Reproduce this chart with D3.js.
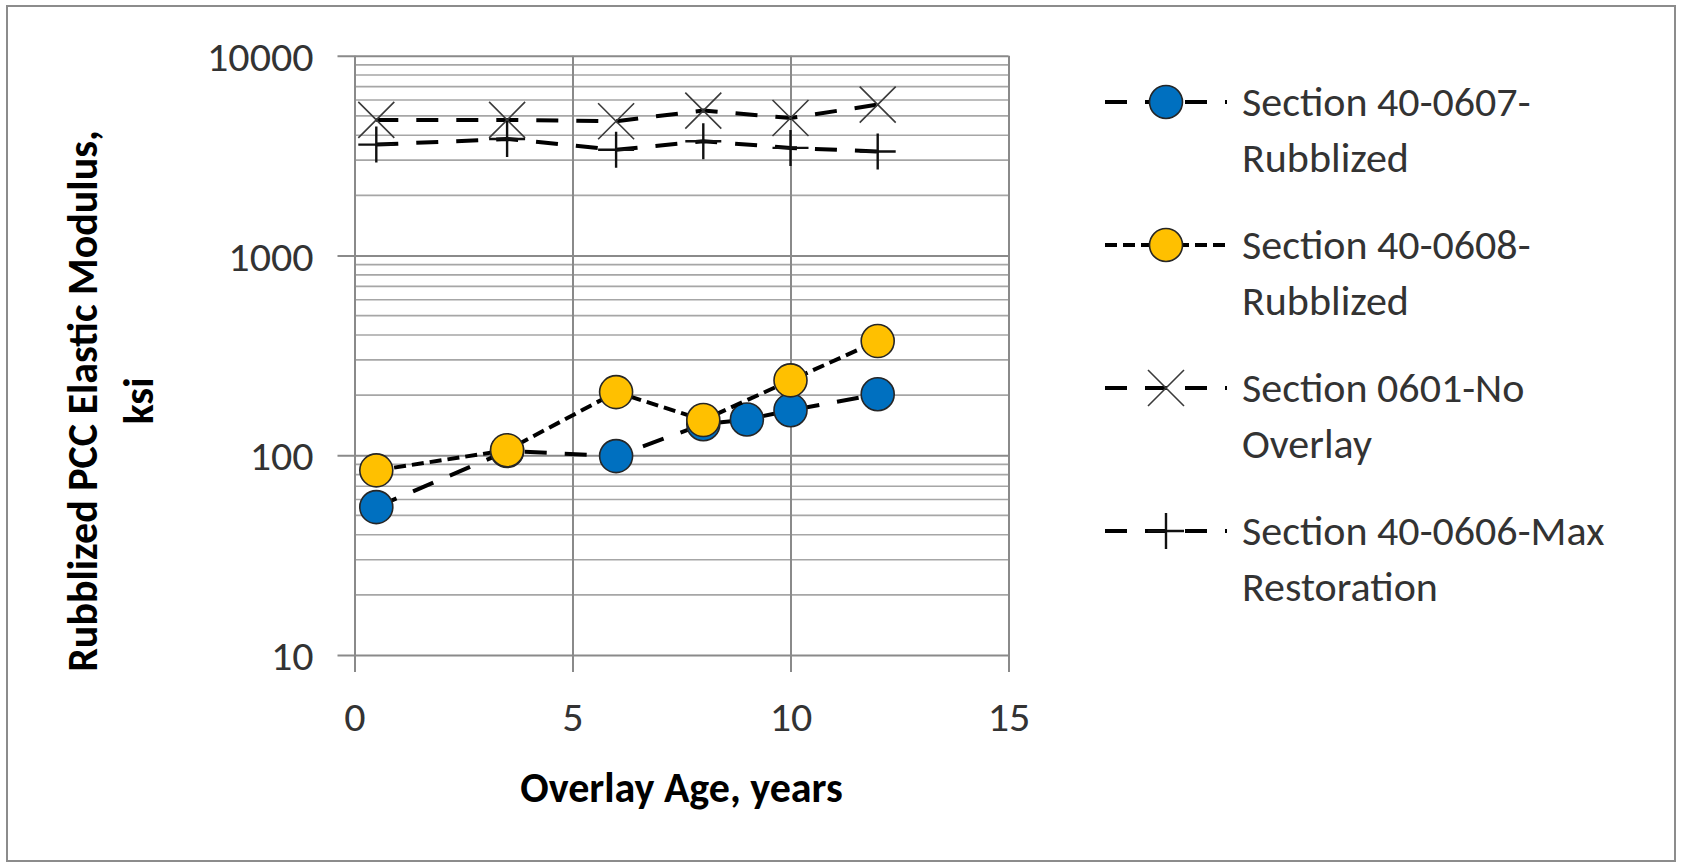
<!DOCTYPE html>
<html>
<head>
<meta charset="utf-8">
<script src="https://cdn.jsdelivr.net/npm/d3@7"></script>
<style>
  html, body { margin: 0; padding: 0; background: #fff; }
  svg text { font-family: Carlito, Calibri, Lato, sans-serif; }
</style>
</head>
<body>
<div id="vis"></div>
<script>
'use strict';

// Values (modulus in ksi, age in years)
const years0607 = [0.5, 3.5, 6, 8, 9, 10, 12];
const modulus0607 = [55, 105, 99, 143, 151, 168, 202];

const years0608 = [0.5, 3.5, 6, 8, 10, 12];
const modulus0608 = [84, 106, 207, 150, 237, 373];

const years0601 = [0.5, 3.5, 6, 8, 10, 12];
const modulus0601 = [4770, 4770, 4700, 5310, 4880, 5690];

const years0606 = [0.5, 3.5, 6, 8, 10, 12];
const modulus0606 = [3590, 3830, 3380, 3730, 3455, 3315];

const legendLabels = [
  ['Section 40-0607-', 'Rubblized'],
  ['Section 40-0608-', 'Rubblized'],
  ['Section 0601-No', 'Overlay'],
  ['Section 40-0606-Max', 'Restoration']
];

const xTicks = [0, 5, 10, 15];
const yTicks = [10, 100, 1000, 10000];

// Constants for sizing
const width = 1682;
const height = 868;
const plot = { left: 354.5, right: 1008.5, top: 55.7, bottom: 655 };

const textColor = '#333';
const gridColor = '#8a8a8a';
const fontSize = 42;

// series look: marker kind, fill, dash pattern
const series = [
  { x: years0607, y: modulus0607, marker: 'circle', fill: '#0070C0', dash: '22,18' },
  { x: years0608, y: modulus0608, marker: 'circle', fill: '#FFC000', dash: '12,6' },
  { x: years0601, y: modulus0601, marker: 'cross', dash: '22,18' },
  { x: years0606, y: modulus0606, marker: 'plus', dash: '22,18' }
];

const xScale = d3.scaleLinear()
  .domain([0, 15])
  .range([plot.left, plot.right]);

const yScale = d3.scaleLog()
  .domain([10, 10000])
  .range([plot.bottom, plot.top]);

const svg = d3.select('#vis')
  .append('svg')
  .attr('width', width)
  .attr('height', height);

// outer chart border
svg.append('rect')
  .attr('x', 7)
  .attr('y', 6)
  .attr('width', 1668)
  .attr('height', 855)
  .attr('fill', '#fff')
  .attr('stroke', '#8c8c8c')
  .attr('stroke-width', 2);

// minor horizontal gridlines (2..9 in every decade)
svg.append('g')
  .selectAll('line')
  .data(yScale.ticks().filter(d => yTicks.indexOf(d) < 0))
  .enter().append('line')
  .attr('x1', plot.left)
  .attr('x2', plot.right)
  .attr('y1', d => yScale(d))
  .attr('y2', d => yScale(d))
  .attr('stroke', '#a6a6a6')
  .attr('stroke-width', 1.6);

// y axis: major gridlines with outside ticks
const yAxis = d3.axisLeft(yScale)
  .tickValues(yTicks)
  .tickSize(-(plot.right - plot.left))
  .tickFormat(d3.format('d'))
  .tickPadding(0);

const yAxisG = svg.append('g')
  .attr('transform', `translate(${plot.left},0)`)
  .call(yAxis);

yAxisG.select('.domain').remove();
yAxisG.selectAll('.tick line')
  .attr('x1', -17)
  .attr('stroke', gridColor)
  .attr('stroke-width', 2);
yAxisG.selectAll('.tick text')
  .attr('x', -41)
  .attr('dy', '0.35em')
  .attr('fill', textColor)
  .style('font-size', fontSize + 'px');

// x axis: vertical gridlines with outside ticks
const xAxis = d3.axisBottom(xScale)
  .tickValues(xTicks)
  .tickSize(-(plot.bottom - plot.top))
  .tickPadding(0);

const xAxisG = svg.append('g')
  .attr('transform', `translate(0,${plot.bottom})`)
  .call(xAxis);

xAxisG.select('.domain').remove();
xAxisG.selectAll('.tick line')
  .attr('y1', 17)
  .attr('stroke', gridColor)
  .attr('stroke-width', 2);
xAxisG.selectAll('.tick text')
  .attr('y', 76)
  .attr('dy', 0)
  .attr('fill', textColor)
  .style('font-size', fontSize + 'px');

// axis titles
svg.append('text')
  .attr('x', (plot.left + plot.right) / 2)
  .attr('y', 802)
  .attr('text-anchor', 'middle')
  .attr('fill', '#000')
  .style('font-size', fontSize + 'px')
  .style('font-weight', 'bold')
  .text('Overlay Age, years');

const yTitle = svg.append('text')
  .attr('transform', 'translate(0,401) rotate(-90)')
  .attr('text-anchor', 'middle')
  .attr('fill', '#000')
  .style('font-size', fontSize + 'px')
  .style('font-weight', 'bold');
yTitle.append('tspan').attr('x', 0).attr('y', 97).text('Rubblized PCC Elastic Modulus,');
yTitle.append('tspan').attr('x', 0).attr('y', 153).text('ksi');

// marker drawing helper
function drawMarker(sel, s) {
  if (s.marker === 'circle') {
    sel.append('circle')
      .attr('r', 16.5)
      .attr('fill', s.fill)
      .attr('stroke', '#262626')
      .attr('stroke-width', 1.6);
  } else if (s.marker === 'cross') {
    sel.append('path')
      .attr('d', 'M-18,-18L18,18M-18,18L18,-18')
      .attr('fill', 'none')
      .attr('stroke', '#3a3a3a')
      .attr('stroke-width', 1.6);
  } else {
    sel.append('path')
      .attr('d', 'M-18,0H18M0,-18V18')
      .attr('fill', 'none')
      .attr('stroke', '#111')
      .attr('stroke-width', 2.4);
  }
}

const line = d3.line()
  .x(d => xScale(d[0]))
  .y(d => yScale(d[1]));

// series: dashed line then markers, in legend order
series.forEach(function (s) {
  const pts = s.x.map((v, i) => [v, s.y[i]]);
  const g = svg.append('g');

  g.append('path')
    .datum(pts)
    .attr('d', line)
    .attr('fill', 'none')
    .attr('stroke', '#000')
    .attr('stroke-width', 4)
    .attr('stroke-dasharray', s.dash);

  g.selectAll('g.pt')
    .data(pts)
    .enter().append('g')
    .attr('class', 'pt')
    .attr('transform', d => `translate(${xScale(d[0])},${yScale(d[1])})`)
    .each(function () { drawMarker(d3.select(this), s); });
});

// legend
const legend = svg.append('g');
series.forEach(function (s, i) {
  const cy = 102 + i * 143;
  const item = legend.append('g');

  item.append('line')
    .attr('x1', 1105)
    .attr('x2', 1227)
    .attr('y1', cy)
    .attr('y2', cy)
    .attr('stroke', '#000')
    .attr('stroke-width', 4)
    .attr('stroke-dasharray', s.dash);

  drawMarker(item.append('g').attr('transform', `translate(1166,${cy})`), s);

  const t = item.append('text')
    .attr('fill', textColor)
    .style('font-size', fontSize + 'px');
  t.append('tspan').attr('x', 1242).attr('y', cy + 14).text(legendLabels[i][0]);
  t.append('tspan').attr('x', 1242).attr('y', cy + 70).text(legendLabels[i][1]);
});
</script>
</body>
</html>
